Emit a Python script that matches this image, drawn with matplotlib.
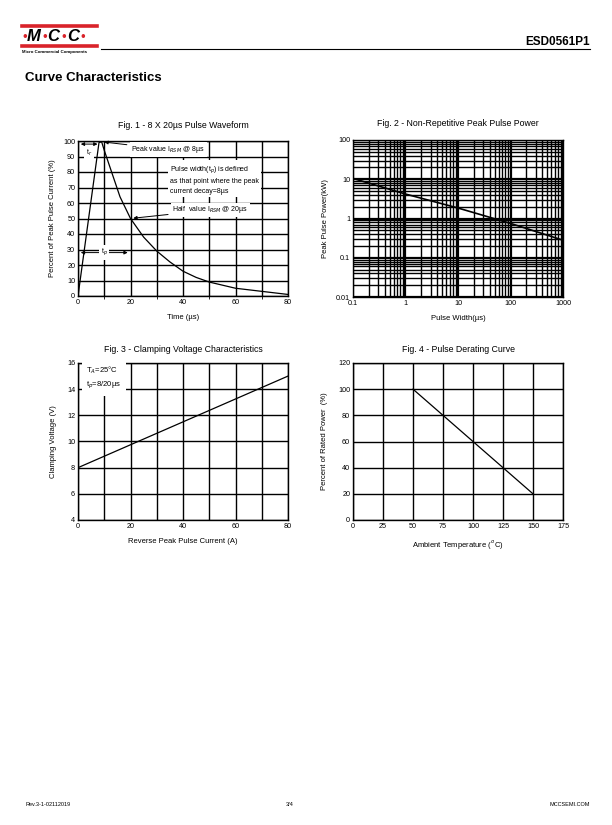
import matplotlib
matplotlib.use("Agg")
import matplotlib.pyplot as plt
from matplotlib.lines import Line2D
from matplotlib.ticker import LogLocator, NullFormatter, FixedLocator
import numpy as np

plt.rcParams['font.family'] = ['Liberation Sans', 'DejaVu Sans']

# ---------------- data ----------------
# Fig 1: 8x20us pulse waveform
fig1_time = [0, 8, 9, 10, 12, 14, 16, 18, 20, 25, 30, 35, 40, 45, 50, 55, 60, 65, 70, 75, 80]
fig1_current = [0, 99, 99.5, 94, 84, 74, 64, 57, 50, 38, 29, 22, 16, 12, 9, 7, 5, 4, 3, 2, 1]
# Fig 2: peak pulse power vs pulse width
fig2_width = [0.1, 1, 10, 100, 1000]
fig2_power = [10.5, 4.2, 1.85, 0.75, 0.28]
# Fig 3: clamping voltage
fig3_current = [0, 80]
fig3_voltage = [8, 15]
# Fig 4: derating
fig4_temp = [50, 150]
fig4_percent = [100, 20]

W, H = 612, 825
fig = plt.figure(figsize=(W / 100, H / 100), dpi=100)


def ax_px(l, t, r, b):
    return fig.add_axes([l / W, 1 - b / H, (r - l) / W, (b - t) / H])


def fx(px):
    return px / W


def fy(py):
    return 1 - py / H


TICK_FS = 5.2
LAB_FS = 5.5
TITLE_FS = 6.3
GRID_LW = 1.0
RED = '#d9232a'

# ---------------- header ----------------
fig.add_artist(Line2D([fx(22), fx(97)], [fy(26), fy(26)], color=RED, lw=2.6))
fig.add_artist(Line2D([fx(22), fx(97)], [fy(46), fy(46)], color=RED, lw=2.6))
logo_chars = [(24.5, "•", RED, 9), (34, "M", 'black', 12), (44.5, "•", RED, 9),
              (53.5, "C", 'black', 12), (64, "•", RED, 9), (73, "C", 'black', 12),
              (83, "•", RED, 9)]
for xp, ch, col, fs in logo_chars:
    fig.text(fx(xp), fy(36.5), ch, ha='center', va='center', fontsize=fs,
             fontweight='bold', fontstyle='italic', color=col)
fig.text(fx(22), fy(51.5), "Micro Commercial Components", ha='left', va='center',
         fontsize=3.2, fontweight='bold')
fig.add_artist(Line2D([fx(101), fx(590)], [fy(48.5), fy(48.5)], color='black', lw=0.8))
fig.text(fx(590), fy(42), "ESD0561P1", ha='right', va='center', fontsize=8.5, fontweight='bold')
fig.text(fx(25), fy(78), "Curve Characteristics", ha='left', va='center', fontsize=9.5,
         fontweight='bold')

# footer
fig.text(fx(25), fy(804), "Rev.3-1-02112019", ha='left', va='center', fontsize=4)
fig.text(fx(290), fy(804), "3/4", ha='center', va='center', fontsize=4)
fig.text(fx(590), fy(804), "MCCSEMI.COM", ha='right', va='center', fontsize=4)


def style(ax):
    for s in ax.spines.values():
        s.set_linewidth(1.0)
    ax.tick_params(labelsize=TICK_FS, length=0, pad=2)


# ---------------- Fig 1 ----------------
ax1 = ax_px(78, 141, 288, 296)
ax1.set_xlim(0, 80)
ax1.set_ylim(0, 100)
ax1.set_xticks([0, 20, 40, 60, 80])
ax1.set_yticks(np.arange(0, 101, 10))
ax1.xaxis.set_minor_locator(FixedLocator(np.arange(0, 81, 10)))
ax1.grid(True, which='both', color='black', lw=GRID_LW)
ax1.set_axisbelow(True)
ax1.plot(fig1_time, fig1_current, color='black', lw=0.9, zorder=3)
style(ax1)
ax1.set_title("Fig. 1 - 8 X 20µs Pulse Waveform", fontsize=TITLE_FS, pad=9)
ax1.set_xlabel("Time (µs)", fontsize=LAB_FS, labelpad=6)
ax1.set_ylabel("Percent of Peak Pulse Current (%)", fontsize=LAB_FS, labelpad=5)

bb = dict(facecolor='white', edgecolor='none', pad=1.2)
arr = dict(arrowstyle='-|>', color='black', lw=0.7, mutation_scale=5)
darr = dict(arrowstyle='<|-|>', color='black', lw=0.7, mutation_scale=5)
# tr
ax1.annotate("", xy=(0, 98), xytext=(8.5, 98), arrowprops=darr, zorder=5)
ax1.text(4.2, 92, "t$_r$", fontsize=5, ha='center', va='center', bbox=bb, zorder=4)
# tp
ax1.annotate("", xy=(0, 28), xytext=(20, 28), arrowprops=darr, zorder=5)
ax1.text(10, 28, "t$_p$", fontsize=5, ha='center', va='center', bbox=bb, zorder=6)
# peak value
ax1.annotate("Peak value I$_{RSM}$ @ 8µs", xy=(9, 99.5), xytext=(20.3, 94.5),
             fontsize=5, ha='left', va='center', bbox=bb, arrowprops=arr, zorder=6)
ax1.text(35, 75, "Pulse width(t$_p$) is defined\nas that point where the peak\ncurrent decay=8µs",
         fontsize=5, ha='left', va='center', bbox=dict(facecolor='white', edgecolor='none', pad=1.5),
         linespacing=1.55, zorder=6)
ax1.annotate("Half  value I$_{RSM}$ @ 20µs", xy=(20, 50), xytext=(36, 55.5),
             fontsize=5, ha='left', va='center', bbox=bb, arrowprops=arr, zorder=6)

# ---------------- Fig 2 ----------------
ax2 = ax_px(353, 140, 563, 297)
ax2.set_xscale('log')
ax2.set_yscale('log')
ax2.set_xlim(0.1, 1000)
ax2.set_ylim(0.01, 100)
ax2.set_xticks([0.1, 1, 10, 100, 1000])
ax2.set_xticklabels(["0.1", "1", "10", "100", "1000"])
ax2.set_yticks([0.01, 0.1, 1, 10, 100])
ax2.set_yticklabels(["0.01", "0.1", "1", "10", "100"])
ax2.xaxis.set_minor_locator(LogLocator(base=10, subs=np.arange(2, 10)))
ax2.yaxis.set_minor_locator(LogLocator(base=10, subs=np.arange(2, 10)))
ax2.xaxis.set_minor_formatter(NullFormatter())
ax2.yaxis.set_minor_formatter(NullFormatter())
ax2.tick_params(which='minor', length=0)
ax2.grid(True, which='major', color='black', lw=1.6)
ax2.grid(True, which='minor', color='black', lw=1.0)
ax2.set_axisbelow(True)
ax2.plot(fig2_width, fig2_power, color='black', lw=1.2, zorder=3)
style(ax2)
ax2.set_title("Fig. 2 - Non-Repetitive Peak Pulse Power", fontsize=TITLE_FS, pad=10)
ax2.set_xlabel("Pulse Width(µs)", fontsize=LAB_FS, labelpad=6)
ax2.set_ylabel("Peak Pulse Power(kW)", fontsize=LAB_FS, labelpad=5)

# ---------------- Fig 3 ----------------
ax3 = ax_px(78, 363, 288, 520)
ax3.set_xlim(0, 80)
ax3.set_ylim(4, 16)
ax3.set_xticks([0, 20, 40, 60, 80])
ax3.set_yticks(np.arange(4, 17, 2))
ax3.xaxis.set_minor_locator(FixedLocator(np.arange(0, 81, 10)))
ax3.tick_params(which='minor', length=0)
ax3.grid(True, which='both', color='black', lw=GRID_LW)
ax3.set_axisbelow(True)
ax3.plot(fig3_current, fig3_voltage, color='black', lw=0.9, zorder=3)
style(ax3)
ax3.set_title("Fig. 3 - Clamping Voltage Characteristics", fontsize=TITLE_FS, pad=8)
ax3.set_xlabel("Reverse Peak Pulse Current (A)", fontsize=LAB_FS, labelpad=6)
ax3.set_ylabel("Clamping Voltage (V)", fontsize=LAB_FS, labelpad=7)
ax3.text(3.2, 14.9, "T$_A$=25°C\nt$_p$=8/20µs", fontsize=5.5, ha='left', va='center',
         linespacing=1.6, bbox=dict(facecolor='white', edgecolor='none', pad=3.5), zorder=4)

# ---------------- Fig 4 ----------------
ax4 = ax_px(353, 363, 563, 520)
ax4.set_xlim(0, 175)
ax4.set_ylim(0, 120)
ax4.set_xticks(np.arange(0, 176, 25))
ax4.set_yticks(np.arange(0, 121, 20))
ax4.grid(True, color='black', lw=GRID_LW)
ax4.set_axisbelow(True)
ax4.plot(fig4_temp, fig4_percent, color='black', lw=0.9, zorder=3)
style(ax4)
ax4.set_title("Fig. 4 - Pulse Derating Curve", fontsize=TITLE_FS, pad=8)
ax4.set_xlabel("Ambient Temperature ($^{o}$C)", fontsize=LAB_FS, labelpad=6)
ax4.set_ylabel("Percent of Rated Power  (%)", fontsize=LAB_FS, labelpad=7)

fig.savefig("out.png", dpi=100)
